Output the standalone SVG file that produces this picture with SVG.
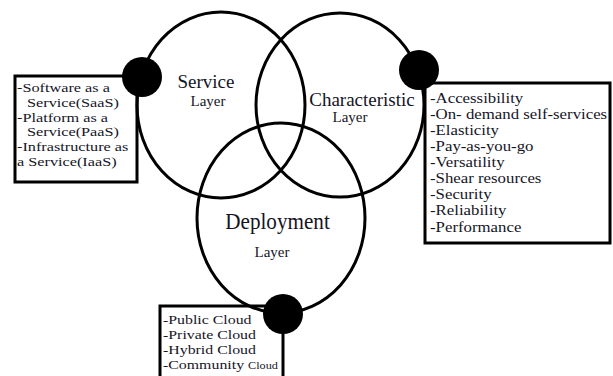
<svg xmlns="http://www.w3.org/2000/svg" width="613" height="376" viewBox="0 0 613 376">
<style>
.ring{fill:none;stroke:#000;stroke-width:3}
.box{fill:#fff;stroke:#000;stroke-width:3}
.dot{fill:#000}
.t{font-family:"Liberation Serif","Times New Roman",serif;fill:#15151f}
.item13{font-size:13px}
.item14{font-size:14px}
.title{font-size:19px}
.sub{font-size:15px}
</style>
<rect width="613" height="376" fill="#fff"/>
<g id="boxes">
<rect class="box" x="15" y="76" width="122" height="106"/>
<rect class="box" x="425" y="83" width="185" height="160"/>
<rect class="box" x="160" y="306" width="123" height="80"/>
</g>
<g id="rings">
<ellipse class="ring" cx="221" cy="105" rx="84" ry="93"/>
<ellipse class="ring" cx="340" cy="105" rx="84" ry="92"/>
<ellipse class="ring" cx="281" cy="218" rx="84" ry="95"/>
</g>
<g id="service">
<circle class="dot" cx="142" cy="77" r="20"/>
<text class="t title" x="206" y="88" text-anchor="middle">Service</text>
<text class="t sub" x="208" y="106" text-anchor="middle">Layer</text>
<g transform="translate(17,0) scale(1.25,1)">
<text class="t item13" x="0" y="92">-Software as a</text>
<text class="t item13" x="8" y="107">Service(SaaS)</text>
<text class="t item13" x="0" y="122">-Platform as a</text>
<text class="t item13" x="8" y="136">Service(PaaS)</text>
<text class="t item13" x="0" y="151">-Infrastructure as</text>
<text class="t item13" x="0" y="166">a Service(IaaS)</text>
</g>
</g>
<g id="characteristic">
<circle class="dot" cx="419" cy="70" r="20"/>
<text class="t title" x="362" y="106" text-anchor="middle">Characteristic</text>
<text class="t sub" x="350" y="122" text-anchor="middle">Layer</text>
<g transform="translate(430,0) scale(1.2,1)">
<text class="t item14" x="0" y="103">-Accessibility</text>
<text class="t item14" x="0" y="119">-On- demand self-services</text>
<text class="t item14" x="0" y="135">-Elasticity</text>
<text class="t item14" x="0" y="151">-Pay-as-you-go</text>
<text class="t item14" x="0" y="167">-Versatility</text>
<text class="t item14" x="0" y="183">-Shear resources</text>
<text class="t item14" x="0" y="199">-Security</text>
<text class="t item14" x="0" y="215">-Reliability</text>
<text class="t item14" x="0" y="232">-Performance</text>
</g>
</g>
<g id="deployment">
<circle class="dot" cx="283" cy="314" r="20"/>
<text class="t" transform="translate(277.5,229) scale(0.92,1)" x="0" y="0" text-anchor="middle" font-size="23">Deployment</text>
<text class="t sub" x="272" y="257" text-anchor="middle">Layer</text>
<g transform="translate(163,0) scale(1.22,1)">
<text class="t item13" x="0" y="324">-Public Cloud</text>
<text class="t item13" x="0" y="339">-Private Cloud</text>
<text class="t item13" x="0" y="354">-Hybrid Cloud</text>
<text class="t item13" x="0" y="369">-Community <tspan font-size="10">Cloud</tspan></text>
</g>
</g>
<g id="connectors"/>
</svg>
